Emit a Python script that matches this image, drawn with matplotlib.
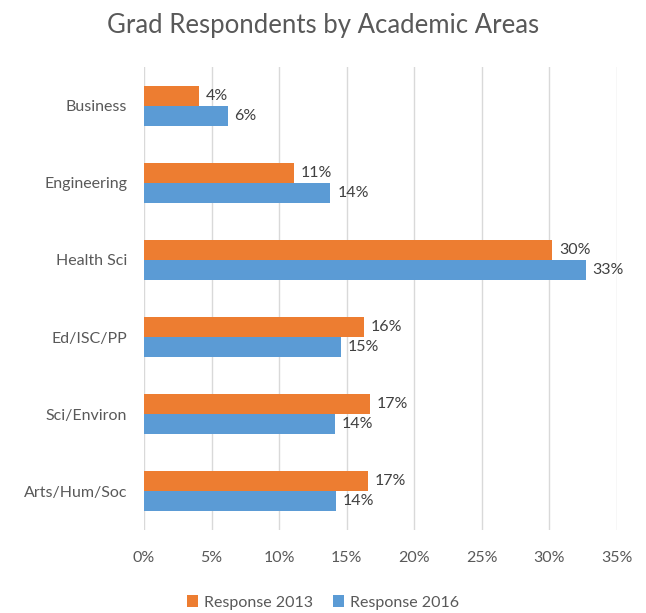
import numpy as np
import matplotlib.pyplot as plt

categories = ['Business', 'Engineering', 'Health Sci', 'Ed/ISC/PP', 'Sci/Environ', 'Arts/Hum/Soc']
resp_2013 = [0.041, 0.111, 0.302, 0.163, 0.167, 0.166]
resp_2016 = [0.062, 0.138, 0.327, 0.146, 0.141, 0.142]
xticks = [0, 0.05, 0.10, 0.15, 0.20, 0.25, 0.30, 0.35]

plt.rcParams['font.family'] = ['Lato', 'DejaVu Sans']

fig = plt.figure(figsize=(6.46, 6.13), dpi=100)
ax = fig.add_axes([0.2229, 0.1354, 0.7322, 0.7553])

y = np.arange(len(categories))
h = 0.26
b1 = ax.barh(y - h/2, resp_2013, height=h, color='#ED7D31', label='Response 2013')
b2 = ax.barh(y + h/2, resp_2016, height=h, color='#5B9BD5', label='Response 2016')

for bars, vals in [(b1, resp_2013), (b2, resp_2016)]:
    for bar, v in zip(bars, vals):
        ax.text(v + 0.005, bar.get_y() + bar.get_height()/2, '%d%%' % round(v*100),
                va='center', ha='left', fontsize=11.5, color='#404040')

ax.set_xlim(0, 0.35)
ax.set_ylim(len(categories) - 0.5, -0.5)
ax.set_xticks(xticks)
ax.set_xticklabels(['%d%%' % round(t*100) for t in xticks])
ax.set_yticks(y)
ax.set_yticklabels(categories)
ax.tick_params(axis='both', length=0, labelsize=11.5, colors='#595959')
ax.tick_params(axis='x', pad=15)
ax.tick_params(axis='y', pad=12)
ax.grid(axis='x', color='#D9D9D9', linewidth=1)
ax.set_axisbelow(True)
for s in ax.spines.values():
    s.set_visible(False)

fig.suptitle('Grad Respondents by Academic Areas', y=0.978, fontsize=18.5, color='#595959')
fig.legend(handles=[b1, b2], loc='lower center', bbox_to_anchor=(0.5, -0.018), ncol=2,
           frameon=False, fontsize=11.5, handlelength=0.7, handleheight=0.7,
           columnspacing=1.2, handletextpad=0.4, labelcolor='#595959')

fig.savefig('out.png', dpi=100)
